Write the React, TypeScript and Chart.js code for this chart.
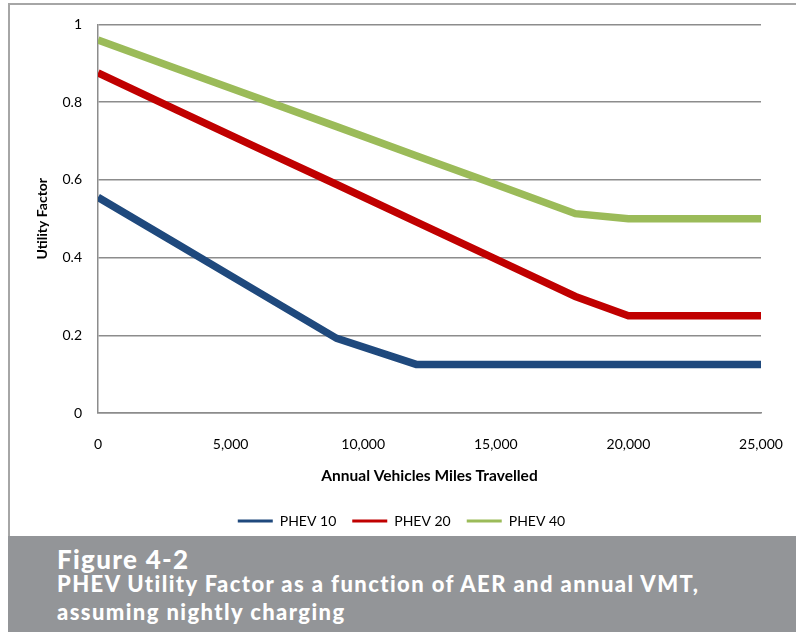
import React, { useEffect, useRef } from "react";
import { Chart, registerables } from "chart.js";

Chart.register(...registerables);

// Annual vehicle miles travelled (x values)
const milesTravelled = [0, 3000, 6000, 9000, 12000, 15000, 18000, 20000, 25000];
// Utility factor per series
const phev10 = [0.555, 0.434, 0.313, 0.192, 0.125, 0.125, 0.125, 0.125, 0.125];
const phev20 = [0.875, 0.779, 0.683, 0.588, 0.492, 0.396, 0.3, 0.25, 0.25];
const phev40 = [0.96, 0.885, 0.811, 0.737, 0.662, 0.588, 0.513, 0.5, 0.5];
const seriesNames = ["PHEV 10", "PHEV 20", "PHEV 40"];
const seriesColors = ["#1f497d", "#c00000", "#9bbb59"];
const xTitle = "Annual Vehicles Miles Travelled";
const yTitle = "Utility Factor";
const captionLines = [
  "Figure 4-2",
  "PHEV Utility Factor as a function of AER and annual VMT,",
  "assuming nightly charging",
];

const FONT = "Lato, 'Open Sans', sans-serif";

export default function App() {
  const canvasRef = useRef<HTMLCanvasElement | null>(null);

  useEffect(() => {
    document.body.style.margin = "0";
    const canvas = canvasRef.current;
    if (!canvas) return;
    const allSeries = [phev10, phev20, phev40];
    const chart = new Chart(canvas, {
      type: "line",
      data: {
        datasets: allSeries.map((vals, i) => ({
          label: seriesNames[i],
          data: vals.map((v, j) => ({ x: milesTravelled[j], y: v })),
          borderColor: seriesColors[i],
          backgroundColor: seriesColors[i],
          borderWidth: 7.5,
          pointRadius: 0,
          pointHoverRadius: 0,
          tension: 0,
          fill: false,
          clip: 0,
        })),
      },
      options: {
        animation: false,
        responsive: false,
        events: [],
        layout: { padding: { left: 42, right: 35, top: 22.5, bottom: 22 } },
        plugins: {
          tooltip: { enabled: false },
          legend: {
            position: "bottom",
            labels: {
              boxWidth: 35,
              boxHeight: 3,
              padding: 16,
              color: "#000",
              font: { family: FONT, size: 14 },
              generateLabels: (c: any) =>
                Chart.defaults.plugins.legend.labels
                  .generateLabels(c)
                  .map((it: any, i: number) => ({
                    ...it,
                    fillStyle: seriesColors[i],
                    strokeStyle: seriesColors[i],
                    lineWidth: 0,
                  })),
            },
          },
        },
        scales: {
          x: {
            type: "linear",
            min: 0,
            max: 25000,
            ticks: {
              stepSize: 5000,
              padding: 8,
              maxRotation: 0,
              color: "#000",
              font: { family: FONT, size: 14, lineHeight: "46px" },
              callback: (v: any) => Number(v).toLocaleString("en-US"),
            },
            grid: { display: false, drawTicks: false },
            border: { display: true, color: "#8c8c8c", width: 1.5 },
            title: {
              display: true,
              text: xTitle,
              color: "#000",
              font: { family: FONT, size: 15.5, weight: "bold" },
              padding: { top: 0, bottom: 12.5 },
            },
            afterFit: (s: any) => {
              s.height = 85;
            },
          },
          y: {
            type: "linear",
            min: 0,
            max: 1,
            ticks: {
              stepSize: 0.2,
              padding: 16,
              color: "#000",
              font: { family: FONT, size: 14 },
              callback: (v: any) => String(Math.round(Number(v) * 10) / 10),
            },
            grid: { color: "#8c8c8c", lineWidth: 1.5, drawTicks: false },
            border: { display: true, color: "#8c8c8c", width: 1.5 },
            title: {
              display: true,
              text: yTitle,
              color: "#000",
              font: { family: FONT, size: 14, weight: "bold" },
              padding: { top: -8, bottom: 0 },
            },
            afterFit: (s: any) => {
              s.width = 56;
            },
          },
        },
      },
    } as any);
    return () => chart.destroy();
  }, []);

  const capBase = {
    position: "absolute" as const,
    left: 49,
    lineHeight: 1.2,
    whiteSpace: "nowrap" as const,
  };

  return (
    <div
      style={{
        position: "relative",
        width: 796,
        height: 632,
        overflow: "hidden",
        background: "#fff",
      }}
    >
      <div
        style={{
          position: "absolute",
          left: 8,
          top: 3,
          width: 800,
          height: 540,
          borderLeft: "2px solid #a6a6a6",
          borderTop: "2px solid #a6a6a6",
        }}
      />
      <canvas
        ref={canvasRef}
        width={796}
        height={560}
        style={{ position: "absolute", left: 0, top: 0, width: 796, height: 560 }}
      />
      <div
        style={{
          position: "absolute",
          left: 8,
          top: 536,
          width: 788,
          height: 96,
          background: "#939598",
          color: "#fff",
          fontFamily: FONT,
          fontWeight: 900,
        }}
      >
        <div style={{ ...capBase, top: 7.5, fontSize: 26, letterSpacing: 1.3 }}>
          {captionLines[0]}
        </div>
        <div style={{ ...capBase, top: 35, fontSize: 22, letterSpacing: 1.4 }}>
          {captionLines[1]}
        </div>
        <div style={{ ...capBase, top: 63, fontSize: 22, letterSpacing: 1.4 }}>
          {captionLines[2]}
        </div>
      </div>
    </div>
  );
}
